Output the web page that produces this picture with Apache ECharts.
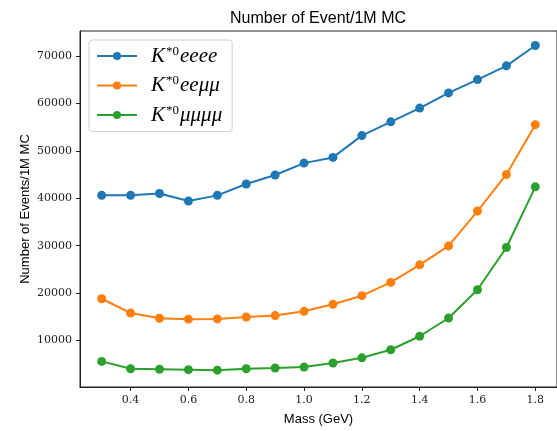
<!DOCTYPE html>
<html>
<head>
<meta charset="utf-8">
<script src="https://cdn.jsdelivr.net/npm/echarts@6/dist/echarts.min.js"></script>
<style>
  html, body { margin: 0; padding: 0; background: #fff; }
  #chart { width: 557px; height: 431px; }
</style>
</head>
<body>
<div id="chart"></div>
<script>
const masses = [0.3, 0.4, 0.5, 0.6, 0.7, 0.8, 0.9, 1.0, 1.1, 1.2, 1.3, 1.4, 1.5, 1.6, 1.7, 1.8]
const eeee = [40600, 40600, 41000, 39400, 40600, 43000, 44900, 47400, 48600, 53200, 56100, 59000, 62200, 65000, 67900, 72200]
const eemumu = [18800, 15800, 14700, 14500, 14550, 14950, 15250, 16150, 17650, 19450, 22250, 25950, 29950, 37300, 45000, 55500]
const mumumumu = [5600, 4050, 3950, 3850, 3750, 4050, 4200, 4400, 5250, 6350, 8050, 10900, 14750, 20700, 29600, 42400]
const xTicks = [0.4, 0.6, 0.8, 1.0, 1.2, 1.4, 1.6, 1.8]
const yTicks = [10000, 20000, 30000, 40000, 50000, 60000, 70000]

const names = ['K*0eeee', 'K*0eeμμ', 'K*0μμμμ']
const colors = ['#1f77b4', '#ff7f0e', '#2ca02c']
const tickFont = 'DejaVu Serif'
const sansFont = 'Liberation Sans'

const chart = echarts.init(document.getElementById('chart'), null, { renderer: 'canvas' })

function makeSeries(name, values, color) {
  return {
    name: name,
    type: 'line',
    data: masses.map((m, i) => [m, values[i]]),
    symbol: 'circle',
    symbolSize: 9,
    showSymbol: true,
    color: color,
    lineStyle: { width: 2, color: color },
    itemStyle: { color: color },
    animation: false
  }
}

const option = {
  backgroundColor: '#fff',
  animation: false,
  title: {
    text: 'Number of Event/1M MC',
    left: 313,
    textAlign: 'center',
    top: 6,
    textStyle: { fontFamily: sansFont, fontSize: 16, fontWeight: 'normal', color: '#000' }
  },
  grid: {
    left: 80,
    right: -3,
    top: 31,
    bottom: 43,
    show: true,
    borderColor: '#222',
    borderWidth: 1,
    containLabel: false
  },
  legend: {
    orient: 'vertical',
    left: 89,
    top: 40,
    padding: [5, 10, 6, 7],
    itemWidth: 40,
    itemHeight: 10,
    itemGap: 8,
    borderColor: '#d0d0d0',
    borderWidth: 1,
    borderRadius: 3,
    backgroundColor: 'rgba(255,255,255,0.8)',
    data: names,
    formatter: function (name) {
      const tail = name.slice(3)
      return '{k|K}{s|*0}{i|' + tail + '}'
    },
    textStyle: {
      rich: {
        k: { fontFamily: 'Liberation Serif', fontStyle: 'italic', fontSize: 21, lineHeight: 22, color: '#000', padding: [0, 0, 0, 9] },
        i: { fontFamily: 'Liberation Serif', fontStyle: 'italic', fontSize: 21, lineHeight: 22, color: '#000' },
        s: { fontFamily: 'Liberation Serif', fontSize: 13, lineHeight: 12, verticalAlign: 'top', color: '#000', padding: [0, 1, 0, 1] }
      }
    }
  },
  xAxis: {
    type: 'value',
    min: 0.225,
    max: 1.875,
    name: 'Mass (GeV)',
    nameLocation: 'middle',
    nameGap: 26,
    nameMoveOverlap: false,
    nameTextStyle: { fontFamily: sansFont, fontSize: 13, color: '#000' },
    axisLine: { show: true, lineStyle: { color: '#222', width: 1 } },
    axisTick: { show: true, inside: false, length: 4, lineStyle: { color: '#222' }, customValues: xTicks },
    axisLabel: {
      customValues: xTicks,
      margin: 8,
      fontFamily: tickFont,
      fontSize: 11,
      color: '#222',
      formatter: (v) => v.toFixed(1)
    },
    splitLine: { show: false }
  },
  yAxis: {
    type: 'value',
    min: 200,
    max: 75250,
    name: 'Number of Events/1M MC',
    nameLocation: 'middle',
    nameGap: 48,
    nameRotate: 90,
    nameMoveOverlap: false,
    nameTextStyle: { fontFamily: sansFont, fontSize: 13, color: '#000' },
    axisLine: { show: true, lineStyle: { color: '#222', width: 1 } },
    axisTick: { show: true, inside: false, length: 4, lineStyle: { color: '#222' }, customValues: yTicks },
    axisLabel: {
      customValues: yTicks,
      margin: 8,
      fontFamily: tickFont,
      fontSize: 11,
      color: '#222',
      formatter: (v) => String(v)
    },
    splitLine: { show: false }
  },
  series: [
    makeSeries(names[0], eeee, colors[0]),
    makeSeries(names[1], eemumu, colors[1]),
    makeSeries(names[2], mumumumu, colors[2])
  ]
}

chart.setOption(option)
</script>
</body>
</html>
